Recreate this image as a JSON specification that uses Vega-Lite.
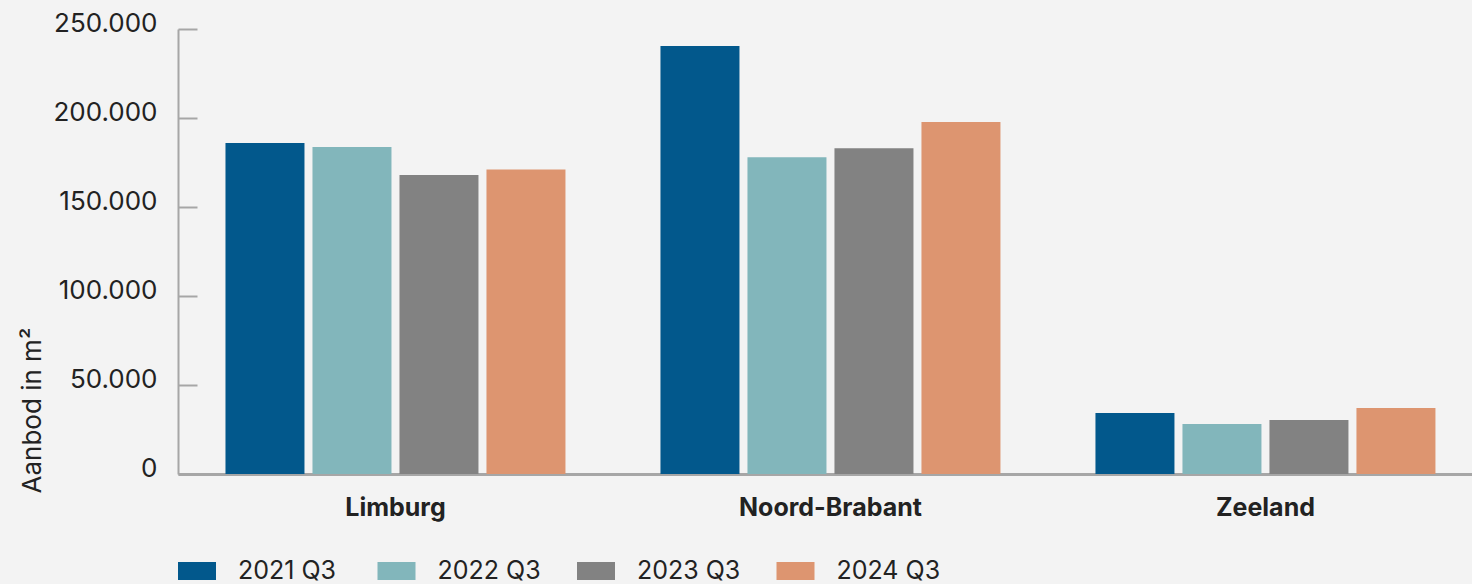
{
  "$schema": "https://vega.github.io/schema/vega-lite/v6.json",
  "autosize": {"type": "none"},
  "padding": {"left": 178, "top": 29, "right": 0, "bottom": 110},
  "width": 1294,
  "height": 445,
  "background": "#f3f3f3",
  "config": {
    "view": {"stroke": null},
    "font": "Inter",
    "text": {"color": "#222222"}
  },
  "data": {
    "values": [
      {"region": "Limburg", "period": "2021 Q3", "value": 186000},
      {"region": "Limburg", "period": "2022 Q3", "value": 183700},
      {"region": "Limburg", "period": "2023 Q3", "value": 168000},
      {"region": "Limburg", "period": "2024 Q3", "value": 171000},
      {"region": "Noord-Brabant", "period": "2021 Q3", "value": 240400},
      {"region": "Noord-Brabant", "period": "2022 Q3", "value": 178000},
      {"region": "Noord-Brabant", "period": "2023 Q3", "value": 183000},
      {"region": "Noord-Brabant", "period": "2024 Q3", "value": 197800},
      {"region": "Zeeland", "period": "2021 Q3", "value": 34300},
      {"region": "Zeeland", "period": "2022 Q3", "value": 28100},
      {"region": "Zeeland", "period": "2023 Q3", "value": 30300},
      {"region": "Zeeland", "period": "2024 Q3", "value": 37100}
    ]
  },
  "mark": {"type": "bar"},
  "encoding": {
    "x": {
      "field": "region",
      "type": "nominal",
      "sort": ["Limburg", "Noord-Brabant", "Zeeland"],
      "scale": {"paddingInner": 0.2184, "paddingOuter": 0.0966, "align": 0.565},
      "axis": {
        "title": null,
        "labelAngle": 0,
        "ticks": false,
        "labelFont": "Inter",
        "labelFontWeight": "bold",
        "labelFontSize": 25,
        "labelColor": "#222222",
        "labelPadding": 21,
        "labelLimit": 400,
        "domainColor": "#a6a6a6",
        "domainWidth": 3
      }
    },
    "xOffset": {
      "field": "period",
      "type": "nominal",
      "scale": {"paddingInner": 0.092, "paddingOuter": 0}
    },
    "y": {
      "field": "value",
      "type": "quantitative",
      "scale": {"domain": [0, 250000], "nice": false},
      "axis": {
        "title": "Aanbod in m²",
        "titleFont": "Inter",
        "titleFontWeight": "normal",
        "titleFontSize": 26,
        "titleColor": "#222222",
        "titleAngle": -90,
        "titleAnchor": "start",
        "titleAlign": "left",
        "titleBaseline": "middle",
        "titleX": -146,
        "titleY": 464,
        "values": [0, 50000, 100000, 150000, 200000, 250000],
        "labelExpr": "replace(format(datum.value, ','), ',', '.')",
        "labelFont": "Inter",
        "labelFontSize": 26,
        "labelColor": "#222222",
        "labelOffset": -6,
        "labelPadding": 40,
        "tickSize": -19,
        "tickColor": "#a6a6a6",
        "tickWidth": 2,
        "domainColor": "#a6a6a6",
        "domainWidth": 2,
        "grid": false
      }
    },
    "color": {
      "field": "period",
      "type": "nominal",
      "scale": {
        "domain": ["2021 Q3", "2022 Q3", "2023 Q3", "2024 Q3"],
        "range": ["#02588c", "#82b6bb", "#828282", "#dd9570"]
      },
      "legend": {
        "title": null,
        "orient": "none",
        "legendX": 0,
        "legendY": 523,
        "direction": "horizontal",
        "columns": 4,
        "gridAlign": "all",
        "columnPadding": 35.5,
        "symbolType": "M-1,-0.4737H1V0.4737H-1Z",
        "symbolSize": 1444,
        "symbolStrokeWidth": 0,
        "symbolOpacity": 1,
        "labelFont": "Inter",
        "labelFontSize": 25,
        "labelColor": "#222222",
        "labelOffset": 22
      }
    }
  }
}
